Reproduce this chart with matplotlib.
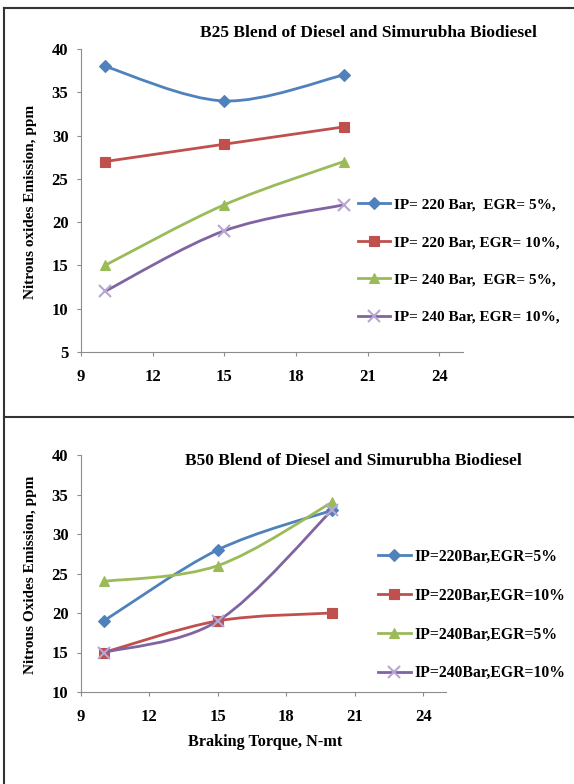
import matplotlib
matplotlib.use("Agg")
import matplotlib.pyplot as plt
from matplotlib.path import Path
from matplotlib.patches import PathPatch
from matplotlib.lines import Line2D

plt.rcParams['font.family'] = ['Liberation Serif', 'DejaVu Serif']
plt.rcParams['font.weight'] = 'bold'

# data
torque = [10, 15, 20]

b25_labels = ['IP= 220 Bar,  EGR= 5%,', 'IP= 220 Bar, EGR= 10%,',
              'IP= 240 Bar,  EGR= 5%,', 'IP= 240 Bar, EGR= 10%,']
b25_ip220_egr5 = [38, 34, 37]
b25_ip220_egr10 = [27, 29, 31]
b25_ip240_egr5 = [15, 22, 27]
b25_ip240_egr10 = [12, 19, 22]

b50_labels = ['IP=220Bar,EGR=5%', 'IP=220Bar,EGR=10%',
              'IP=240Bar,EGR=5%', 'IP=240Bar,EGR=10%']
b50_ip220_egr5 = [19, 28, 33]
b50_ip220_egr10 = [15, 19, 20]
b50_ip240_egr5 = [24, 26, 34]
b50_ip240_egr10 = [15, 19, 33]

colors = ['#4F81BD', '#C0504D', '#9BBB59', '#8064A2']
markers = ['D', 's', '^', 'x']
msizes = [6, 7.5, 7.5, 8]
medge = ['#4F81BD', '#C0504D', '#9BBB59', '#B7A6D0']


def smooth_path(xs, ys):
    # excel-like smoothed line: cubic bezier through the points
    pts = list(zip(xs, ys))
    n = len(pts)
    verts = [pts[0]]
    codes = [Path.MOVETO]
    for i in range(n - 1):
        p0 = pts[i - 1] if i > 0 else pts[i]
        p1 = pts[i]
        p2 = pts[i + 1]
        p3 = pts[i + 2] if i + 2 < n else pts[i + 1]
        c1 = (p1[0] + (p2[0] - p0[0]) / 6, p1[1] + (p2[1] - p0[1]) / 6)
        c2 = (p2[0] - (p3[0] - p1[0]) / 6, p2[1] - (p3[1] - p1[1]) / 6)
        verts += [c1, c2, p2]
        codes += [Path.CURVE4] * 3
    return Path(verts, codes)


def draw_panel(ax, series, labels, ylim, title, title_pos, leg_pos, leg_space, leg_size):
    fig = ax.figure
    handles = []
    for i, ys in enumerate(series):
        patch = PathPatch(smooth_path(torque, ys), facecolor='none',
                          edgecolor=colors[i], lw=2.0, zorder=2 + i)
        ax.add_patch(patch)
        ax.plot(torque, ys, linestyle='none', marker=markers[i],
                markersize=msizes[i], color=colors[i],
                markeredgecolor=medge[i], markeredgewidth=1.5 if i == 3 else 0.8,
                zorder=3 + i)
        handles.append(Line2D([], [], color=colors[i], lw=2.0, marker=markers[i],
                              markersize=msizes[i], markeredgecolor=medge[i],
                              markeredgewidth=1.5 if i == 3 else 0.8))

    ax.set_xlim(9, 25)
    ax.set_ylim(*ylim)
    ax.set_xticks([9, 12, 15, 18, 21, 24])
    ax.set_yticks(range(ylim[0], ylim[1] + 1, 5))
    for s in ['top', 'right']:
        ax.spines[s].set_visible(False)
    for s in ['left', 'bottom']:
        ax.spines[s].set_color('#8C8C8C')
        ax.spines[s].set_linewidth(0.8)
    ax.tick_params(direction='out', length=3, color='#8C8C8C', labelsize=12)
    ax.tick_params(axis='x', pad=9)
    ax.tick_params(axis='y', pad=6)

    fig.text(title_pos[0], title_pos[1], title, ha='center', va='center',
             fontsize=12.5, fontweight='bold')
    fig.legend(handles, labels, loc='center left', bbox_to_anchor=leg_pos,
               frameon=False, fontsize=leg_size, handlelength=2.1, handletextpad=0.25,
               labelspacing=leg_space, borderpad=0, borderaxespad=0)


fig = plt.figure(figsize=(5.74, 7.84), dpi=100)

ax1 = fig.add_axes([81 / 574, 1 - 352 / 784, 382 / 574, 303 / 784])
draw_panel(ax1, [b25_ip220_egr5, b25_ip220_egr10, b25_ip240_egr5, b25_ip240_egr10],
           b25_labels, (5, 40), 'B25 Blend of Diesel and Simurubha Biodiesel',
           (368 / 574, 1 - 33 / 784), (358 / 574, 1 - 261 / 784), 1.55, 11)
fig.text(31 / 574, 1 - 202 / 784, 'Nitrous oxides Emission, ppm', rotation=90,
         ha='center', va='center', fontsize=11, fontweight='bold')

ax2 = fig.add_axes([81 / 574, 1 - 692 / 784, 365 / 574, 237 / 784])
draw_panel(ax2, [b50_ip220_egr5, b50_ip220_egr10, b50_ip240_egr5, b50_ip240_egr10],
           b50_labels, (10, 40), 'B50 Blend of Diesel and Simurubha Biodiesel',
           (353 / 574, 1 - 461 / 784), (378 / 574, 1 - 615 / 784), 1.45, 11.3)
fig.text(31 / 574, 1 - 575 / 784, 'Nitrous Oxides Emission, ppm', rotation=90,
         ha='center', va='center', fontsize=11, fontweight='bold')
fig.text(265 / 574, 1 - 742 / 784, 'Braking Torque, N-mt', ha='center',
         va='center', fontsize=11.7, fontweight='bold')

# frame lines around the two panels
fig.add_artist(Line2D([4 / 574, 4 / 574], [0, 1 - 8 / 784], color='#333333', lw=1.5))
fig.add_artist(Line2D([4 / 574, 1], [1 - 8 / 784, 1 - 8 / 784], color='#333333', lw=1.5))
fig.add_artist(Line2D([4 / 574, 1], [1 - 417 / 784, 1 - 417 / 784], color='#333333', lw=1.5))

fig.savefig('out.png', dpi=100)
